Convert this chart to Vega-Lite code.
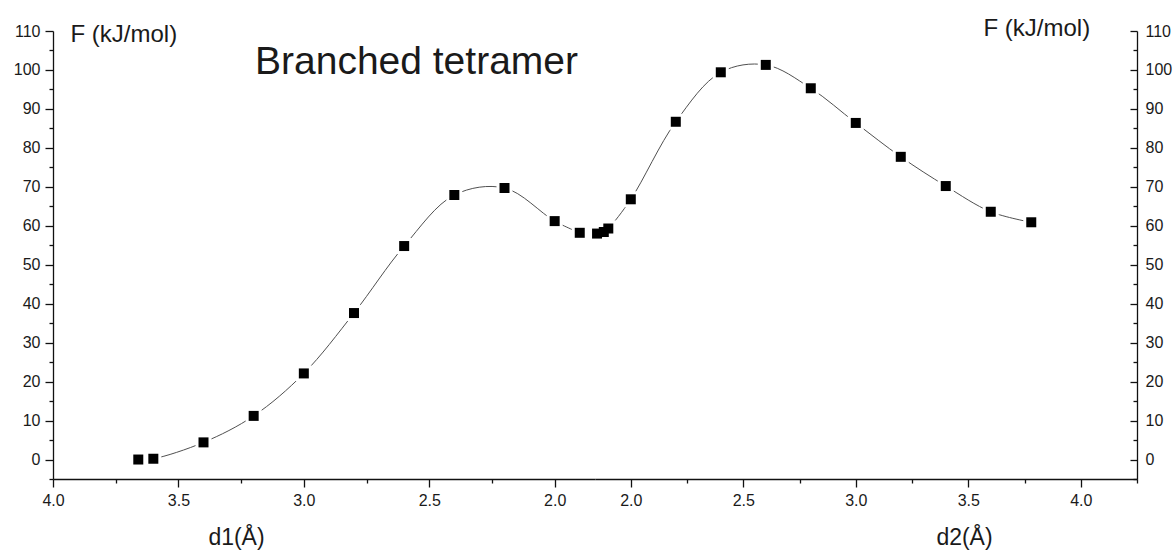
{
  "$schema": "https://vega.github.io/schema/vega-lite/v6.json",
  "width": 1084,
  "height": 448,
  "autosize": {"type": "none"},
  "padding": {"left": 53, "top": 31, "right": 39, "bottom": 71},
  "background": "white",
  "config": {
    "font": "Liberation Sans",
    "view": {"stroke": null},
    "axis": {
      "grid": false,
      "domainColor": "#111111",
      "domainWidth": 1.3,
      "tickColor": "#111111",
      "tickWidth": 1.3,
      "labelColor": "#1a1a1a",
      "labelFontSize": 16,
      "labelFlush": false,
      "labelOverlap": false,
      "titleColor": "#1a1a1a",
      "titleFontWeight": "normal"
    }
  },
  "title": {
    "text": "Branched tetramer",
    "anchor": "start",
    "frame": "group",
    "fontSize": 39,
    "fontWeight": "normal",
    "color": "#1a1a1a",
    "offset": 0,
    "dx": 202,
    "dy": 97,
    "baseline": "alphabetic"
  },
  "datasets": {
    "d1": [
      {"d": 3.66, "F": 0.0},
      {"d": 3.60, "F": 0.2},
      {"d": 3.40, "F": 4.4},
      {"d": 3.20, "F": 11.2},
      {"d": 3.00, "F": 22.1},
      {"d": 2.80, "F": 37.6},
      {"d": 2.60, "F": 54.8},
      {"d": 2.40, "F": 67.9},
      {"d": 2.20, "F": 69.7},
      {"d": 2.00, "F": 61.2},
      {"d": 1.90, "F": 58.2}
    ],
    "d2": [
      {"d": 1.85, "F": 58.0},
      {"d": 1.88, "F": 58.4},
      {"d": 1.90, "F": 59.3},
      {"d": 2.00, "F": 66.8},
      {"d": 2.20, "F": 86.7},
      {"d": 2.40, "F": 99.4},
      {"d": 2.60, "F": 101.3},
      {"d": 2.80, "F": 95.3},
      {"d": 3.00, "F": 86.4},
      {"d": 3.20, "F": 77.7},
      {"d": 3.40, "F": 70.2},
      {"d": 3.60, "F": 63.6},
      {"d": 3.78, "F": 60.9}
    ]
  },
  "resolve": {
    "scale": {"x": "independent", "y": "independent"},
    "axis": {"x": "independent", "y": "independent"}
  },
  "layer": [
    {
      "data": {"name": "d1"},
      "mark": {"type": "line", "interpolate": "catmull-rom", "color": "#505050", "strokeWidth": 1},
      "encoding": {
        "x": {
          "field": "d", "type": "quantitative",
          "scale": {"domain": [1.84, 4.0], "range": [541.8, 0], "nice": false, "zero": false},
          "axis": {
            "orient": "bottom", "values": [2.0, 2.5, 3.0, 3.5, 4.0], "format": ".1f",
            "tickSize": 8, "labelPadding": 5, "labelFontSize": 16,
            "title": "d1(Å)", "titleFontSize": 23, "titleX": 183, "titleY": 65,
            "titleAlign": "center", "titleBaseline": "alphabetic"
          }
        },
        "y": {
          "field": "F", "type": "quantitative",
          "scale": {"domain": [-5, 110], "nice": false, "zero": false},
          "axis": {
            "orient": "left", "values": [0, 10, 20, 30, 40, 50, 60, 70, 80, 90, 100, 110],
            "tickSize": 8, "labelPadding": 5, "labelFontSize": 16,
            "title": "F (kJ/mol)", "titleFontSize": 24, "titleAngle": 0,
            "titleX": 17, "titleY": 10, "titleAlign": "left", "titleBaseline": "alphabetic"
          }
        }
      }
    },
    {
      "data": {"name": "d1"},
      "mark": {"type": "square", "color": "white", "opacity": 1, "size": 256},
      "encoding": {
        "x": {
          "field": "d", "type": "quantitative",
          "scale": {"domain": [1.84, 4.0], "range": [541.8, 0], "nice": false, "zero": false},
          "axis": {
            "orient": "bottom", "values": [2.25, 2.75, 3.25, 3.75],
            "tickSize": 4, "labels": false, "domain": false, "title": null
          }
        },
        "y": {
          "field": "F", "type": "quantitative",
          "scale": {"domain": [-5, 110], "nice": false, "zero": false},
          "axis": {
            "orient": "left", "values": [-5, 5, 15, 25, 35, 45, 55, 65, 75, 85, 95, 105],
            "tickSize": 4, "labels": false, "domain": false, "title": null
          }
        }
      }
    },
    {
      "data": {"name": "d1"},
      "mark": {"type": "square", "color": "black", "opacity": 1, "size": 100},
      "encoding": {
        "x": {
          "field": "d", "type": "quantitative",
          "scale": {"domain": [1.84, 4.0], "range": [541.8, 0], "nice": false, "zero": false},
          "axis": null
        },
        "y": {
          "field": "F", "type": "quantitative",
          "scale": {"domain": [-5, 110], "nice": false, "zero": false},
          "axis": {
            "orient": "right", "values": [0, 10, 20, 30, 40, 50, 60, 70, 80, 90, 100, 110],
            "tickSize": -7, "labelPadding": 15, "labelFontSize": 16,
            "title": "F (kJ/mol)", "titleFontSize": 24, "titleAngle": 0,
            "titleX": -154, "titleY": 4, "titleAlign": "left", "titleBaseline": "alphabetic"
          }
        }
      }
    },
    {
      "data": {"name": "d2"},
      "mark": {"type": "line", "interpolate": "catmull-rom", "color": "#505050", "strokeWidth": 1},
      "encoding": {
        "x": {
          "field": "d", "type": "quantitative",
          "scale": {"domain": [1.84, 4.25], "range": [541.8, 1084], "nice": false, "zero": false},
          "axis": {
            "orient": "bottom", "values": [2.0, 2.5, 3.0, 3.5, 4.0], "format": ".1f",
            "tickSize": 8, "labelPadding": 5, "labelFontSize": 16,
            "title": "d2(Å)", "titleFontSize": 23, "titleX": 911, "titleY": 65,
            "titleAlign": "center", "titleBaseline": "alphabetic"
          }
        },
        "y": {
          "field": "F", "type": "quantitative",
          "scale": {"domain": [-5, 110], "nice": false, "zero": false},
          "axis": {
            "orient": "right", "values": [-5, 5, 15, 25, 35, 45, 55, 65, 75, 85, 95, 105],
            "tickSize": -4, "labels": false, "domain": false, "title": null
          }
        }
      }
    },
    {
      "data": {"name": "d2"},
      "mark": {"type": "square", "color": "white", "opacity": 1, "size": 256},
      "encoding": {
        "x": {
          "field": "d", "type": "quantitative",
          "scale": {"domain": [1.84, 4.25], "range": [541.8, 1084], "nice": false, "zero": false},
          "axis": {
            "orient": "bottom", "values": [2.25, 2.75, 3.25, 3.75, 4.25],
            "tickSize": 4, "labels": false, "domain": false, "title": null
          }
        },
        "y": {
          "field": "F", "type": "quantitative",
          "scale": {"domain": [-5, 110], "nice": false, "zero": false},
          "axis": null
        }
      }
    },
    {
      "data": {"name": "d2"},
      "mark": {"type": "square", "color": "black", "opacity": 1, "size": 100},
      "encoding": {
        "x": {
          "field": "d", "type": "quantitative",
          "scale": {"domain": [1.84, 4.25], "range": [541.8, 1084], "nice": false, "zero": false},
          "axis": null
        },
        "y": {
          "field": "F", "type": "quantitative",
          "scale": {"domain": [-5, 110], "nice": false, "zero": false},
          "axis": null
        }
      }
    }
  ]
}
